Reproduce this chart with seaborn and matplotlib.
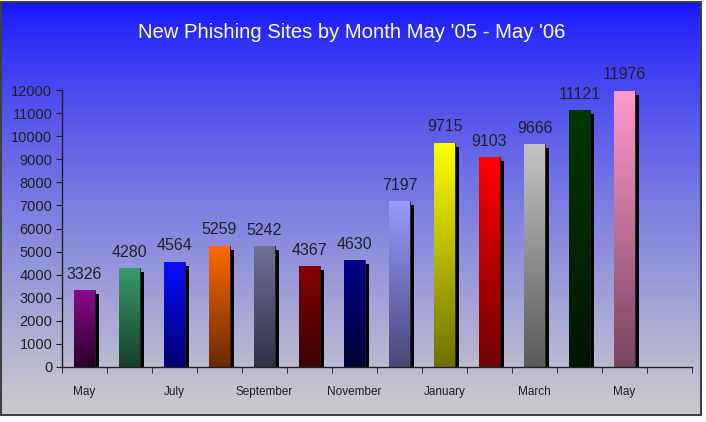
import numpy as np
import pandas as pd
import seaborn as sns
import matplotlib.pyplot as plt
import matplotlib.patheffects as pe
from matplotlib.colors import to_rgb

months = ['May', 'June', 'July', 'August', 'September', 'October', 'November',
          'December', 'January', 'February', 'March', 'April', 'May']
sites = [3326, 4280, 4564, 5259, 5242, 4367, 4630, 7197, 9715, 9103, 9666, 11121, 11976]
top_colors = ['#8a0a8a', '#3a9a6a', '#0a0aff', '#ff6a00', '#70709a', '#860000', '#00008a',
              '#9a9aff', '#ffff00', '#ff0000', '#c4c4c4', '#003800', '#ff9acc']
bottom_colors = ['#2a002a', '#15402a', '#000070', '#6a2a00', '#303048', '#3a0000', '#000038',
                 '#484878', '#707000', '#700000', '#5a5a5a', '#001400', '#7a4460']
tick_labels = ['May', '', 'July', '', 'September', '', 'November', '', 'January', '', 'March', '', 'May']

df = pd.DataFrame({'idx': range(len(sites)), 'month': months, 'sites': sites})

plt.rcParams['font.family'] = ['Liberation Sans', 'DejaVu Sans']
fig = plt.figure(figsize=(7.06, 4.22), dpi=100)
fig.patch.set_facecolor('white')

# background gradient panel
bg = fig.add_axes([0, 0, 1, 1], zorder=-1)
t = np.linspace(0, 1, 256) ** 0.8
c_top = np.array([0.08, 0.08, 1.0])
c_bot = np.array([0.80, 0.80, 0.80])
grad = c_top[None, :] * (1 - t[:, None]) + c_bot[None, :] * t[:, None]
bg.imshow(grad[:, None, :], aspect='auto', extent=[0, 701, 415, 2], interpolation='bilinear')
bg.set_xlim(0, 706)
bg.set_ylim(422, 0)
bg.add_patch(plt.Rectangle((1, 2), 700, 413, fill=False, edgecolor='#404040', lw=1.5))
bg.axis('off')

ax = fig.add_axes([62 / 706, 55 / 422, 630 / 706, 277 / 422])
ax.patch.set_alpha(0)
sns.barplot(data=df, x='idx', y='sites', hue='idx', palette=top_colors, legend=False,
            width=0.45, ax=ax, edgecolor='#202020', linewidth=0.6)

shadow = [pe.SimplePatchShadow(offset=(3, -3), shadow_rgbFace='black', alpha=1.0), pe.Normal()]
for i, bar in enumerate(ax.patches):
    bar.set_path_effects(shadow)
    x0, w, h = bar.get_x(), bar.get_width(), bar.get_height()
    s = np.linspace(0, 1, 64)[:, None]
    g = np.array(to_rgb(top_colors[i]))[None, :] * (1 - s) + np.array(to_rgb(bottom_colors[i]))[None, :] * s
    img = ax.imshow(g[:, None, :], aspect='auto', extent=[x0, x0 + w, 0, h],
                    interpolation='bilinear', zorder=bar.get_zorder() + 0.1, origin='upper')
    img.set_clip_path(bar)

for c in ax.containers:
    ax.bar_label(c, fmt='%d', padding=6, fontsize=11.5, color='#20202a')

ax.set_xlim(-0.5, 13.5)
ax.set_ylim(0, 12000)
ax.set_yticks(range(0, 12001, 1000))
ax.set_xticks(range(len(sites)))
ax.set_xticklabels(tick_labels, fontsize=8.5, color='#202020')
ax.set_xticks(np.arange(-0.5, 14, 1), minor=True)
ax.tick_params(axis='x', which='major', length=0, pad=14)
ax.tick_params(axis='x', which='minor', length=4, direction='out', color='#202020')
ax.tick_params(axis='y', length=4, direction='out', labelsize=10.5, colors='#202020', pad=3)
ax.set_xlabel('')
ax.set_ylabel('')
for s in ['top', 'right']:
    ax.spines[s].set_visible(False)
for s in ['left', 'bottom']:
    ax.spines[s].set_color('#202020')
    ax.spines[s].set_linewidth(1)

fig.text(352 / 706, 1 - 33 / 422, "New Phishing Sites by Month May '05 - May '06",
         ha='center', va='center', color='white', fontsize=14.6)

fig.savefig('out.png', dpi=100)
